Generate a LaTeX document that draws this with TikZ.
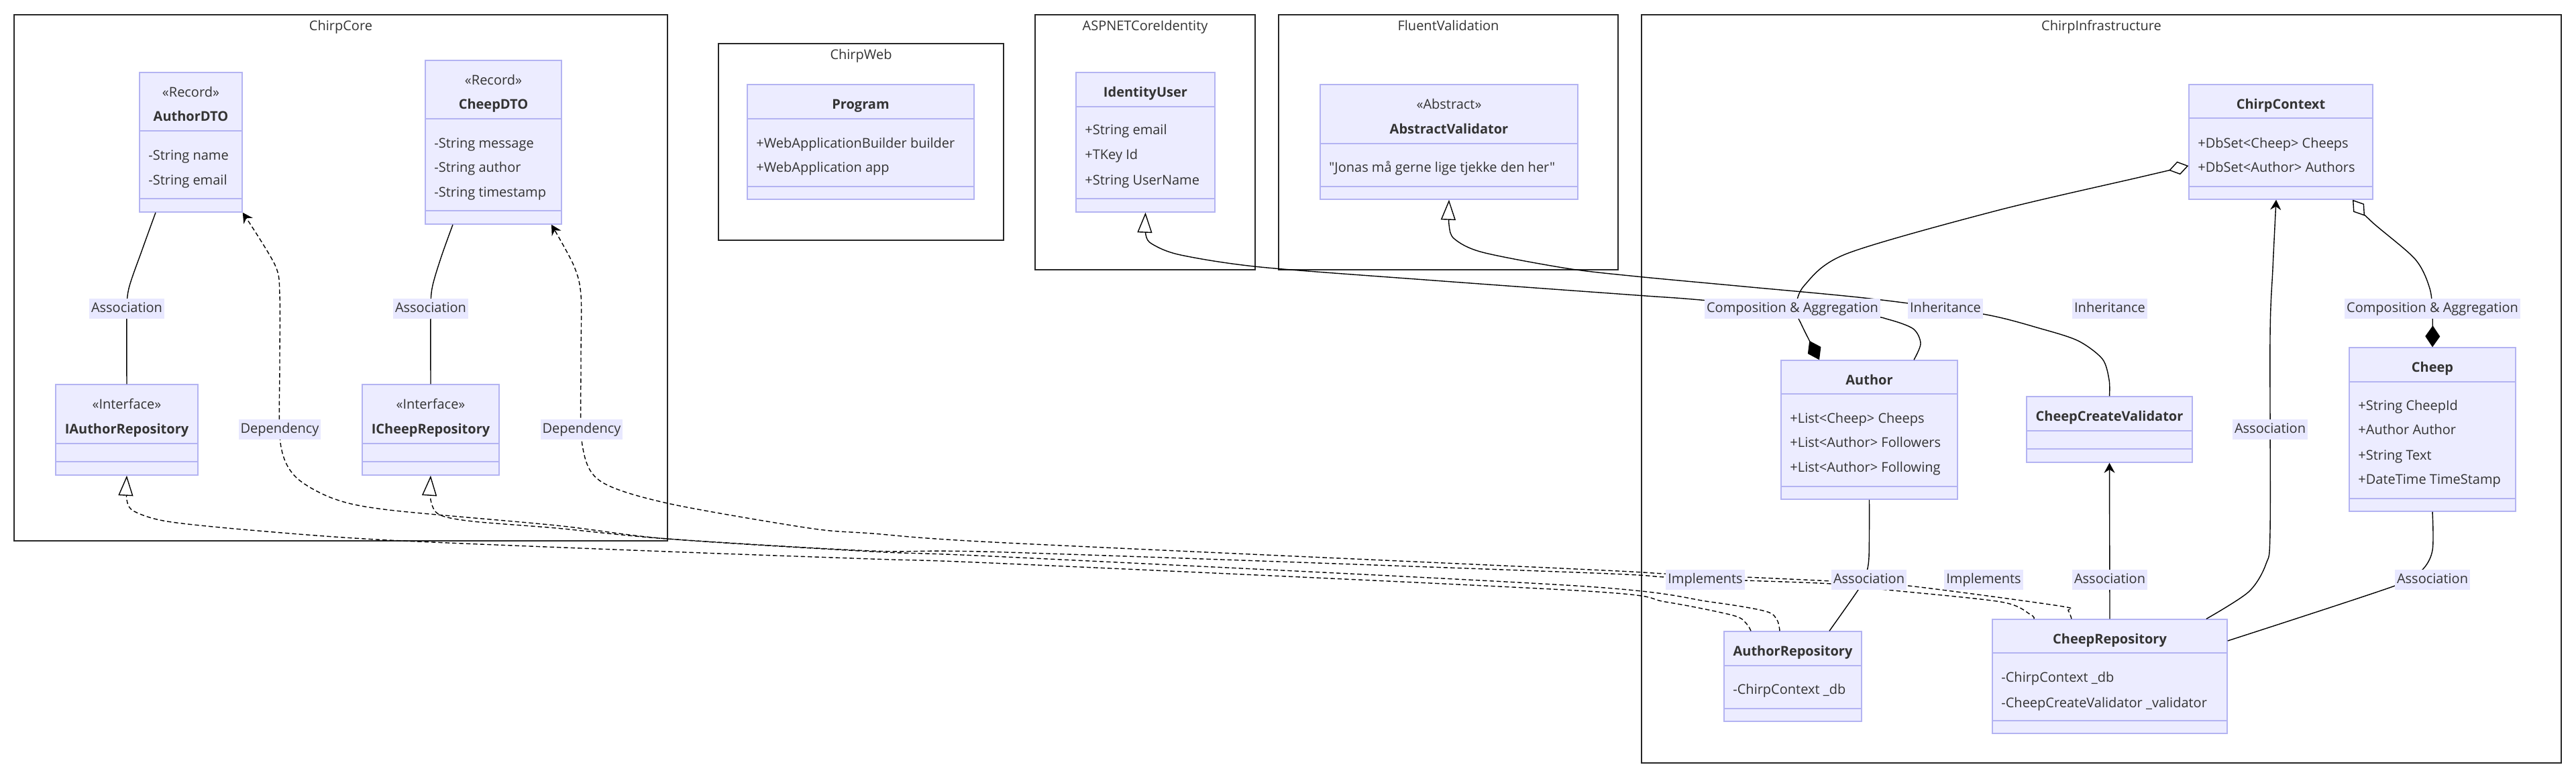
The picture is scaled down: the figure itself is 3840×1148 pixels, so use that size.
\documentclass[tikz,border=0pt]{standalone}
\usepackage{fontspec}
\setmainfont{Open Sans}[Ligatures=TeXOff]
\usetikzlibrary{arrows.meta,fit,calc}
\definecolor{txt}{HTML}{333333}
\definecolor{clsfill}{HTML}{ECECFF}
\definecolor{clsline}{HTML}{B3B3F2}
\definecolor{lblbg}{HTML}{E8E8FF}
\newcommand\umlbox[7]{%
  \node[clsbox, fit={(#2,#3)(#4,#5)}] (#1) {};
  \draw[clsdiv] (#2,#6) -- (#4,#6);
  \draw[clsdiv] (#2,#7) -- (#4,#7);
}
\tikzset{
  clsbox/.style={draw=clsline, fill=clsfill, line width=0.75pt, inner sep=0pt},
  clsdiv/.style={draw=clsline, line width=0.75pt},
  cluster/.style={draw=black!85, line width=0.9pt, inner sep=0pt},
  cltitle/.style={text=txt, anchor=base, inner sep=0pt},
  cname/.style={text=txt, font=\bfseries, anchor=base, inner sep=0pt},
  cster/.style={text=txt, anchor=base, inner sep=0pt},
  cmem/.style={text=txt, anchor=base west, inner sep=0pt},
  elabel/.style={fill=lblbg, text=txt, inner xsep=1.5pt, inner ysep=0pt, minimum height=15pt, text height=7.5pt, text depth=2.3pt},
  conn/.style={draw=black, line width=0.7pt},
  dashedge/.style={conn, dash pattern=on 3.2pt off 2pt},
  tipdep/.style={-{Stealth[length=7.5pt,width=8pt,inset=2.5pt]}},
  tipext/.style={-{Triangle[open,length=15pt,width=11pt,fill=white]}},
  tipagg/.style={{Diamond[open,length=15pt,width=10pt,fill=white]}-{Diamond[length=16pt,width=11pt]}},
}
\begin{document}
\begin{tikzpicture}[x=0.5pt,y=-0.5pt]
\useasboundingbox (0,0) rectangle (3840,1148);
\fill[white] (0,0) rectangle (3840,1148);

% clusters
\node[cluster, fit={(21,22)(995,806)}] (ChirpCore) {};
\node[cltitle] (ChirpCore-t) at (508,45) {ChirpCore};
\node[cluster, fit={(1071,65)(1496,358)}] (ChirpWeb) {};
\node[cltitle] (ChirpWeb-t) at (1283.5,88) {ChirpWeb};
\node[cluster, fit={(1543,22)(1871,402)}] (ASPNET) {};
\node[cltitle] (ASPNET-t) at (1707,45) {ASPNETCoreIdentity};
\node[cluster, fit={(1906,22)(2412,402)}] (Fluent) {};
\node[cltitle] (Fluent-t) at (2159,45) {FluentValidation};
\node[cluster, fit={(2447,22)(3818,1137)}] (Infra) {};
\node[cltitle] (Infra-t) at (3132.5,45) {ChirpInfrastructure};

% classes
\umlbox{AuthorDTO}{208}{108}{361}{316}{195}{296}
\node[cster] (AuthorDTO-s) at (284.5,144) {«Record»};
\node[cname] (AuthorDTO-n) at (284.5,180) {AuthorDTO};
\node[cmem] (AuthorDTO-m1) at (221,238) {-String name};
\node[cmem] (AuthorDTO-m2) at (221,275) {-String email};

\umlbox{CheepDTO}{634}{90}{837}{334}{177}{314}
\node[cster] (CheepDTO-s) at (735.5,126) {«Record»};
\node[cname] (CheepDTO-n) at (735.5,162) {CheepDTO};
\node[cmem] (CheepDTO-m1) at (647,220) {-String message};
\node[cmem] (CheepDTO-m2) at (647,256) {-String author};
\node[cmem] (CheepDTO-m3) at (647,293) {-String timestamp};

\umlbox{IAuthorRepository}{83}{573}{295}{708}{661}{688}
\node[cster] (IAuthorRepository-s) at (189,609) {«Interface»};
\node[cname] (IAuthorRepository-n) at (189,646) {IAuthorRepository};

\umlbox{ICheepRepository}{540}{573}{744}{708}{661}{688}
\node[cster] (ICheepRepository-s) at (642,609) {«Interface»};
\node[cname] (ICheepRepository-n) at (642,646) {ICheepRepository};

\umlbox{Program}{1114}{126}{1452}{297}{177}{278}
\node[cname] (Program-n) at (1283,162) {Program};
\node[cmem] (Program-m1) at (1127,220) {+WebApplicationBuilder builder};
\node[cmem] (Program-m2) at (1127,256) {+WebApplication app};

\umlbox{IdentityUser}{1604}{108}{1811}{316}{159}{296}
\node[cname] (IdentityUser-n) at (1707.5,144) {IdentityUser};
\node[cmem] (IdentityUser-m1) at (1617,200) {+String email};
\node[cmem] (IdentityUser-m2) at (1617,237) {+TKey Id};
\node[cmem] (IdentityUser-m3) at (1617,275) {+String UserName};

\umlbox{AbstractValidator}{1968}{126}{2352}{297}{214}{278}
\node[cster] (AbstractValidator-s) at (2160,162) {«Abstract»};
\node[cname] (AbstractValidator-n) at (2160,199) {AbstractValidator};
\node[cmem] (AbstractValidator-m1) at (1981,256) {"Jonas må gerne lige tjekke den her"};

\umlbox{ChirpContext}{3263}{126}{3537}{297}{176}{278}
\node[cname] (ChirpContext-n) at (3400,162) {ChirpContext};
\node[cmem] (ChirpContext-m1) at (3276,220) {+DbSet<Cheep> Cheeps};
\node[cmem] (ChirpContext-m2) at (3276,256) {+DbSet<Author> Authors};

\umlbox{Author}{2655}{537}{2918}{744}{587}{725}
\node[cname] (Author-n) at (2786.5,573) {Author};
\node[cmem] (Author-m1) at (2668,630) {+List<Cheep> Cheeps};
\node[cmem] (Author-m2) at (2668,666) {+List<Author> Followers};
\node[cmem] (Author-m3) at (2668,703) {+List<Author> Following};

\umlbox{CheepCreateValidator}{3021}{591}{3268}{689}{642}{669}
\node[cname] (CheepCreateValidator-n) at (3144.5,627) {CheepCreateValidator};

\umlbox{Cheep}{3502}{518}{3750}{762}{569}{743}
\node[cname] (Cheep-n) at (3626,554) {Cheep};
\node[cmem] (Cheep-m1) at (3515,611) {+String CheepId};
\node[cmem] (Cheep-m2) at (3515,647) {+Author Author};
\node[cmem] (Cheep-m3) at (3515,685) {+String Text};
\node[cmem] (Cheep-m4) at (3515,721) {+DateTime TimeStamp};

\umlbox{AuthorRepository}{2570}{941}{2775}{1075}{992}{1056}
\node[cname] (AuthorRepository-n) at (2672.5,977) {AuthorRepository};
\node[cmem] (AuthorRepository-m1) at (2583,1034) {-ChirpContext \_db};

\umlbox{CheepRepository}{2970}{923}{3320}{1093}{973}{1074}
\node[cname] (CheepRepository-n) at (3145,959) {CheepRepository};
\node[cmem] (CheepRepository-m1) at (2983,1016) {-ChirpContext \_db};
\node[cmem] (CheepRepository-m2) at (2983,1054) {-CheepCreateValidator \_validator};

% connector end points
\coordinate (e1s) at (232,0 |- AuthorDTO.south);
\coordinate (e2s) at (675,0 |- CheepDTO.south);
\coordinate (d2s) at (2653,0 |- AuthorRepository.north);
\coordinate (d2e) at (AuthorDTO.south east);
\coordinate (i1s) at (2610,0 |- AuthorRepository.north);
\coordinate (d1s) at (3088,0 |- CheepRepository.north);
\coordinate (d1e) at (822,0 |- CheepDTO.south);
\coordinate (i2s) at (3032,0 |- CheepRepository.north);
\coordinate (h1s) at (2853,0 |- Author.north);
\coordinate (a1s) at (ChirpContext.west |- 0,247);
\coordinate (a1e) at (2712,0 |- Author.north);
\coordinate (a2s) at (3507,0 |- ChirpContext.south);
\coordinate (c1s) at (3289,0 |- CheepRepository.north);
\coordinate (c1e) at (3393,0 |- ChirpContext.south);
\coordinate (c3e) at (CheepRepository.east |- 0,955);
\coordinate (c4e) at (2727,0 |- AuthorRepository.north);

% solid associations in ChirpCore
\draw[conn] plot[smooth] coordinates {(e1s) (212,372) (192,430) (189,470) (IAuthorRepository.north)};
\draw[conn] plot[smooth] coordinates {(e2s) (657,385) (644,430) (642,470) (ICheepRepository.north)};

% dashed dependencies and realizations
\draw[dashedge, tipdep] plot[smooth] coordinates {(d2s) (2649,924) (2632,911) (2550,897) (2350,873) (1500,830) (1300,822) (995,803) (829,783) (580,760) (497,743) (440,710) (418,660) (417,540) (417,440) (410,395) (d2e)};
\draw[dashedge, tipext] plot[smooth] coordinates {(i1s) (2603,929) (2583,917) (2483,897) (2350,880) (1500,840) (1300,833) (995,822) (580,805) (373,790) (249,777) (200,762) (189,745) (IAuthorRepository.south)};
\draw[dashedge, tipext] plot[smooth] coordinates {(i2s) (3027,916) (2983,897) (2813,879) (2730,870) (2601,865) (2482,860) (2350,853) (1500,823) (1300,821) (995,803) (829,787) (705,777) (655,767) (642,745) (ICheepRepository.south)};
\draw[dashedge, tipdep] plot[smooth] coordinates {(d1s) (3083,910) (3070,903) (2845,873) (2730,866) (2601,860) (2482,855) (2350,848) (1500,809) (1300,795) (1206,787) (995,750) (895,717) (868,663) (866,540) (866,440) (855,395) (d1e)};

% inheritance
\draw[conn, tipext] plot[smooth] coordinates {(h1s) (2863,512) (2852,490) (2815,476) (2772,469) (2535,447) (2440,440) (2138,418) (1879,398) (1760,380) (1718,364) (1708,350) (IdentityUser.south)};
\draw[conn, tipext] plot[smooth] coordinates {(CheepCreateValidator.north) (3144,566) (3134,535) (3098,508) (3043,490) (2956,468) (2788,445) (2600,427) (2440,412) (2336,400) (2210,376) (2168,356) (2160,335) (AbstractValidator.south)};

% composition & aggregation
\draw[conn, tipagg] plot[smooth] coordinates {(a1s) (3190,264) (2976,314) (2753,378) (2690,425) (2677,460) (2686,485) (a1e)};
\draw[conn, tipagg] plot[smooth] coordinates {(a2s) (3535,330) (3600,386) (3622,430) (3626,470) (Cheep.north)};

% associations in infrastructure
\draw[conn, tipdep] plot[smooth] coordinates {(c1s) (3352,882) (3378,840) (3384,790) (3384,500) (3388,400) (c1e)};
\draw[conn, tipdep] (CheepRepository.north) -- (CheepCreateValidator.south);
\draw[conn] plot[smooth] coordinates {(Cheep.south) (3626,820) (3610,850) (3570,873) (c3e)};
\draw[conn] plot[smooth] coordinates {(Author.south) (2786,830) (2781,857) (2770,879) (c4e)};

% edge labels
\node[elabel] (lA1) at (189,460) {Association};
\node[elabel] (lA2) at (642,460) {Association};
\node[elabel] (lD1) at (417,640) {Dependency};
\node[elabel] (lD2) at (867,640) {Dependency};
\node[elabel] (lC1) at (2672,460) {Composition \& Aggregation};
\node[elabel] (lI1) at (2900,460) {Inheritance};
\node[elabel] (lI2) at (3145,460) {Inheritance};
\node[elabel] (lC2) at (3626,460) {Composition \& Aggregation};
\node[elabel] (lA3) at (3384,640) {Association};
\node[elabel] (lM1) at (2542,864) {Implements};
\node[elabel] (lA4) at (2786,864) {Association};
\node[elabel] (lM2) at (2957,864) {Implements};
\node[elabel] (lA5) at (3145,864) {Association};
\node[elabel] (lA6) at (3626,864) {Association};
\end{tikzpicture}
\end{document}
